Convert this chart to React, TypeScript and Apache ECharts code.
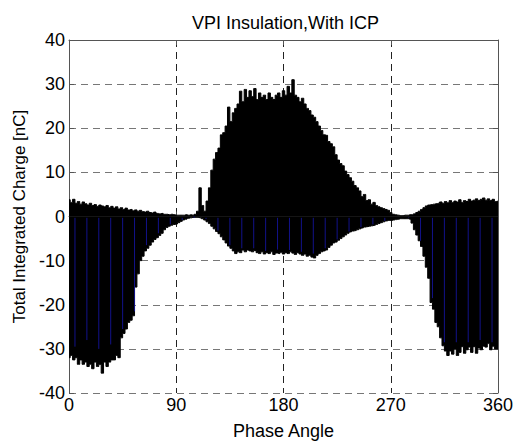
import React, { useEffect, useRef } from "react";
import * as echarts from "echarts";

// Phase angle samples (degrees), every 2 degrees from 0 to 360
const phaseStep = 2;
// Positive envelope of integrated charge [nC]
const upperCharge = [
  3.8, 3.2, 3.9, 3.0, 3.4, 2.8, 3.3, 2.9, 2.6, 3.0,
  2.5, 2.7, 2.3, 2.6, 2.4, 2.2, 2.5, 2.0, 2.3, 1.9,
  2.2, 1.7, 2.0, 1.6, 1.9, 1.5, 1.6, 1.3, 1.5, 1.2,
  1.4, 1.1, 1.0, 1.2, 0.9, 0.8, 1.0, 0.7, 0.6, 0.7,
  0.5, 0.5, 0.4, 0.5, 0.4, 0.3, 0.3, 0.3, 0.3, 0.4,
  0.3, 0.4, 0.3, 0.5, 1.2, 6.5, 2.5, 1.2, 3.5, 6.5,
  10.5, 13.0, 14.5, 15.5, 18.5, 19.0, 20.5, 24.8, 21.5, 23.5,
  24.5, 25.5, 28.4, 26.0, 28.8, 27.0, 28.5, 27.2, 29.0, 26.5,
  28.0, 27.0, 27.5, 26.5, 28.0, 27.0, 26.5, 27.5, 28.0, 27.0,
  28.5, 27.5, 29.5, 28.0, 31.0, 27.5, 27.0, 26.0, 26.8, 25.5,
  24.5, 24.0, 23.0, 22.5, 21.5, 20.5, 19.5, 18.5, 18.4, 17.0,
  16.5, 15.8, 14.0, 12.8, 12.0, 11.5, 10.3, 9.5, 8.8, 8.0,
  7.0, 6.5, 5.8, 4.5, 5.0, 3.6, 3.8, 2.8, 3.2, 2.5,
  2.2, 2.0, 1.8, 1.6, 1.4, 0.9, 0.5, 0.4, 0.3, 0.2,
  0.2, 0.3, 0.3, 0.4, 0.4, 0.6, 0.9, 1.2, 1.6, 2.0,
  2.4, 2.6, 2.7, 2.8, 2.9, 3.0, 3.3, 3.0, 3.4, 3.1,
  3.6, 3.2, 3.5, 3.3, 3.8, 3.2, 3.6, 3.4, 3.9, 3.5,
  3.7, 4.0, 3.6, 3.9, 4.2, 3.7, 4.0, 3.6, 3.9, 3.4,
  3.5,
];
// Negative envelope of integrated charge [nC]
const lowerCharge = [
  -32, -31.5, -32.5, -32, -33.5, -32.5, -33.5, -33, -34, -33.5,
  -34.5, -33, -34, -33.5, -35.5, -33, -34, -33, -32.5, -32.5,
  -31.5, -32, -27.5, -26.5, -25.5, -24, -23.5, -22.5, -16, -13,
  -10, -9, -7.8, -7.2, -6.5, -5.8, -5.2, -4.8, -4.3, -3.8,
  -3.0, -2.5, -2.2, -2.0, -1.8, -1.7, -1.4, -1.1, -0.8, -0.6,
  -0.4, -0.3, -0.2, -0.2, -0.2, -0.3, -0.5, -0.8, -1.2, -1.6,
  -2.2, -2.8, -3.4, -3.9, -4.6, -5.3, -6.0, -6.7, -7.2, -7.8,
  -8.4, -8.0, -8.2, -7.6, -8.0, -7.6, -7.8, -8.0, -7.7, -8.2,
  -8.4, -8.0, -8.5, -8.2, -8.4, -8.0, -8.6, -8.3, -8.4, -8.1,
  -8.5, -8.2, -8.4, -8.0, -8.3, -8.6, -8.2, -8.5, -8.8, -8.5,
  -9.0, -8.8, -9.2, -9.4, -8.8, -8.4, -8.0, -7.8, -7.6, -7.0,
  -6.5, -6.0, -5.8, -5.4, -5.0, -4.6, -4.2, -3.8, -3.5, -3.3,
  -3.2, -3.0, -2.8, -2.6, -2.4, -2.3, -2.2, -2.1, -2.0, -1.8,
  -1.6, -1.4, -1.2, -1.0, -0.9, -0.9, -0.8, -0.7, -0.6, -0.5,
  -0.5, -0.5, -0.5, -0.6, -1.5, -3.0, -4.2, -5.5, -6.8, -9.0,
  -11.5, -14.0, -19.5, -21.0, -24.0, -25.0, -27.5, -29.3, -30.5, -31.5,
  -30.5, -31.2, -30.0, -31.5, -30.8, -29.5, -31.0, -30.2, -29.6, -30.8,
  -29.5, -31.0, -29.8, -30.2, -29.4, -29.6, -28.8, -30.2, -29.4, -30.0,
  -30.0,
];
// Blue trace: phase positions and their lower ends
const blueX = [
  5, 15, 25, 35, 45, 55, 65, 75, 85, 95, 105, 115,
  125, 135, 145, 155, 165, 175, 185, 195, 205, 215, 225, 235,
  245, 255, 265, 275, 285, 295, 305, 315, 325, 335, 345, 355,
];
const blueLow = [
  -29.5, -28, -30, -29, -25.5, -21.5, -6.5, -3.8, -1.8, -0.8, 0, -0.6,
  -3.2, -6.5, -7.2, -7.2, -7.8, -7.5, -7.6, -8.0, -8.4, -7.2, -5.2, -3.4,
  -2.4, -1.8, -1.0, -0.3, -0.2, -5.5, -18.5, -28.5, -28.5, -28.5, -28, -28.5,
];
const xTicks = [0, 90, 180, 270, 360];
const yTicks = [-40, -30, -20, -10, 0, 10, 20, 30, 40];

const FONT = "'Liberation Sans', Arial, Helvetica, sans-serif";

export default function App() {
  const ref = useRef<HTMLDivElement>(null);
  useEffect(() => {
    if (!ref.current) return;
    const chart = echarts.init(ref.current, undefined, { renderer: "svg" });
    const upperData = upperCharge.map((v, i) => [i * phaseStep, v]);
    const lowerData = lowerCharge.map((v, i) => [i * phaseStep, v]);
    const blueData = blueX.map((x, i) => [x, -0.3, blueLow[i]]);
    const axisColor = "#555";
    const labelStyle = { fontSize: 18, color: "#000", fontFamily: FONT };
    chart.setOption({
      animation: false,
      backgroundColor: "#fff",
      title: {
        text: "VPI Insulation,With ICP",
        left: 187,
        top: 9,
        textStyle: { fontSize: 18, fontWeight: "normal", color: "#000", fontFamily: FONT },
      },
      grid: { left: 69, right: 22, top: 40, bottom: 47, containLabel: false },
      xAxis: [
        {
          type: "value",
          min: xTicks[0],
          max: xTicks[xTicks.length - 1],
          interval: 90,
          name: "Phase Angle",
          nameLocation: "middle",
          nameGap: 29,
          nameTextStyle: labelStyle,
          axisLine: { show: true, lineStyle: { color: axisColor, width: 1 } },
          axisTick: { show: true, inside: true, length: 5, lineStyle: { color: axisColor } },
          axisLabel: { ...labelStyle, margin: 3 },
          splitLine: { show: true, lineStyle: { color: "#222", type: [7, 5], width: 1 } },
        },
        {
          type: "value",
          position: "top",
          min: 0,
          max: 360,
          interval: 90,
          axisLine: { show: true, onZero: false, lineStyle: { color: axisColor, width: 1 } },
          axisTick: { show: true, inside: true, length: 5, lineStyle: { color: axisColor } },
          axisLabel: { show: false },
          splitLine: { show: false },
        },
      ],
      yAxis: [
        {
          type: "value",
          min: yTicks[0],
          max: yTicks[yTicks.length - 1],
          interval: 10,
          name: "Total Integrated Charge [nC]",
          nameLocation: "middle",
          nameGap: 37,
          nameRotate: 90,
          nameTextStyle: { ...labelStyle, fontSize: 17 },
          axisLine: { show: true, onZero: false, lineStyle: { color: axisColor, width: 1 } },
          axisTick: { show: true, inside: true, length: 5, lineStyle: { color: axisColor } },
          axisLabel: { ...labelStyle, margin: 4 },
          splitLine: { show: true, lineStyle: { color: "#777", type: [7, 5], width: 1 } },
        },
        {
          type: "value",
          position: "right",
          min: -40,
          max: 40,
          interval: 10,
          axisLine: { show: true, onZero: false, lineStyle: { color: axisColor, width: 1 } },
          axisTick: { show: true, inside: true, length: 5, lineStyle: { color: axisColor } },
          axisLabel: { show: false },
          splitLine: { show: false },
        },
      ],
      series: [
        {
          type: "line",
          data: upperData,
          step: "middle",
          symbol: "none",
          lineStyle: { color: "#000", width: 1 },
          areaStyle: { color: "#000", opacity: 1 },
          z: 2,
        },
        {
          type: "line",
          data: lowerData,
          step: "middle",
          symbol: "none",
          lineStyle: { color: "#000", width: 1 },
          areaStyle: { color: "#000", opacity: 1 },
          z: 2,
        },
        {
          type: "custom",
          data: blueData,
          encode: { x: 0, y: [1, 2] },
          z: 3,
          renderItem: (params: any, api: any) => {
            const p1 = api.coord([api.value(0), api.value(1)]);
            const p2 = api.coord([api.value(0), api.value(2)]);
            return {
              type: "line",
              shape: { x1: p1[0], y1: p1[1], x2: p2[0], y2: p2[1] },
              style: { stroke: "#12128a", lineWidth: 1 },
            };
          },
        },
      ],
    });
    return () => chart.dispose();
  }, []);
  return (
    <div
      ref={ref}
      style={{ position: "fixed", left: 0, top: 0, width: 520, height: 445, background: "#fff" }}
    />
  );
}
